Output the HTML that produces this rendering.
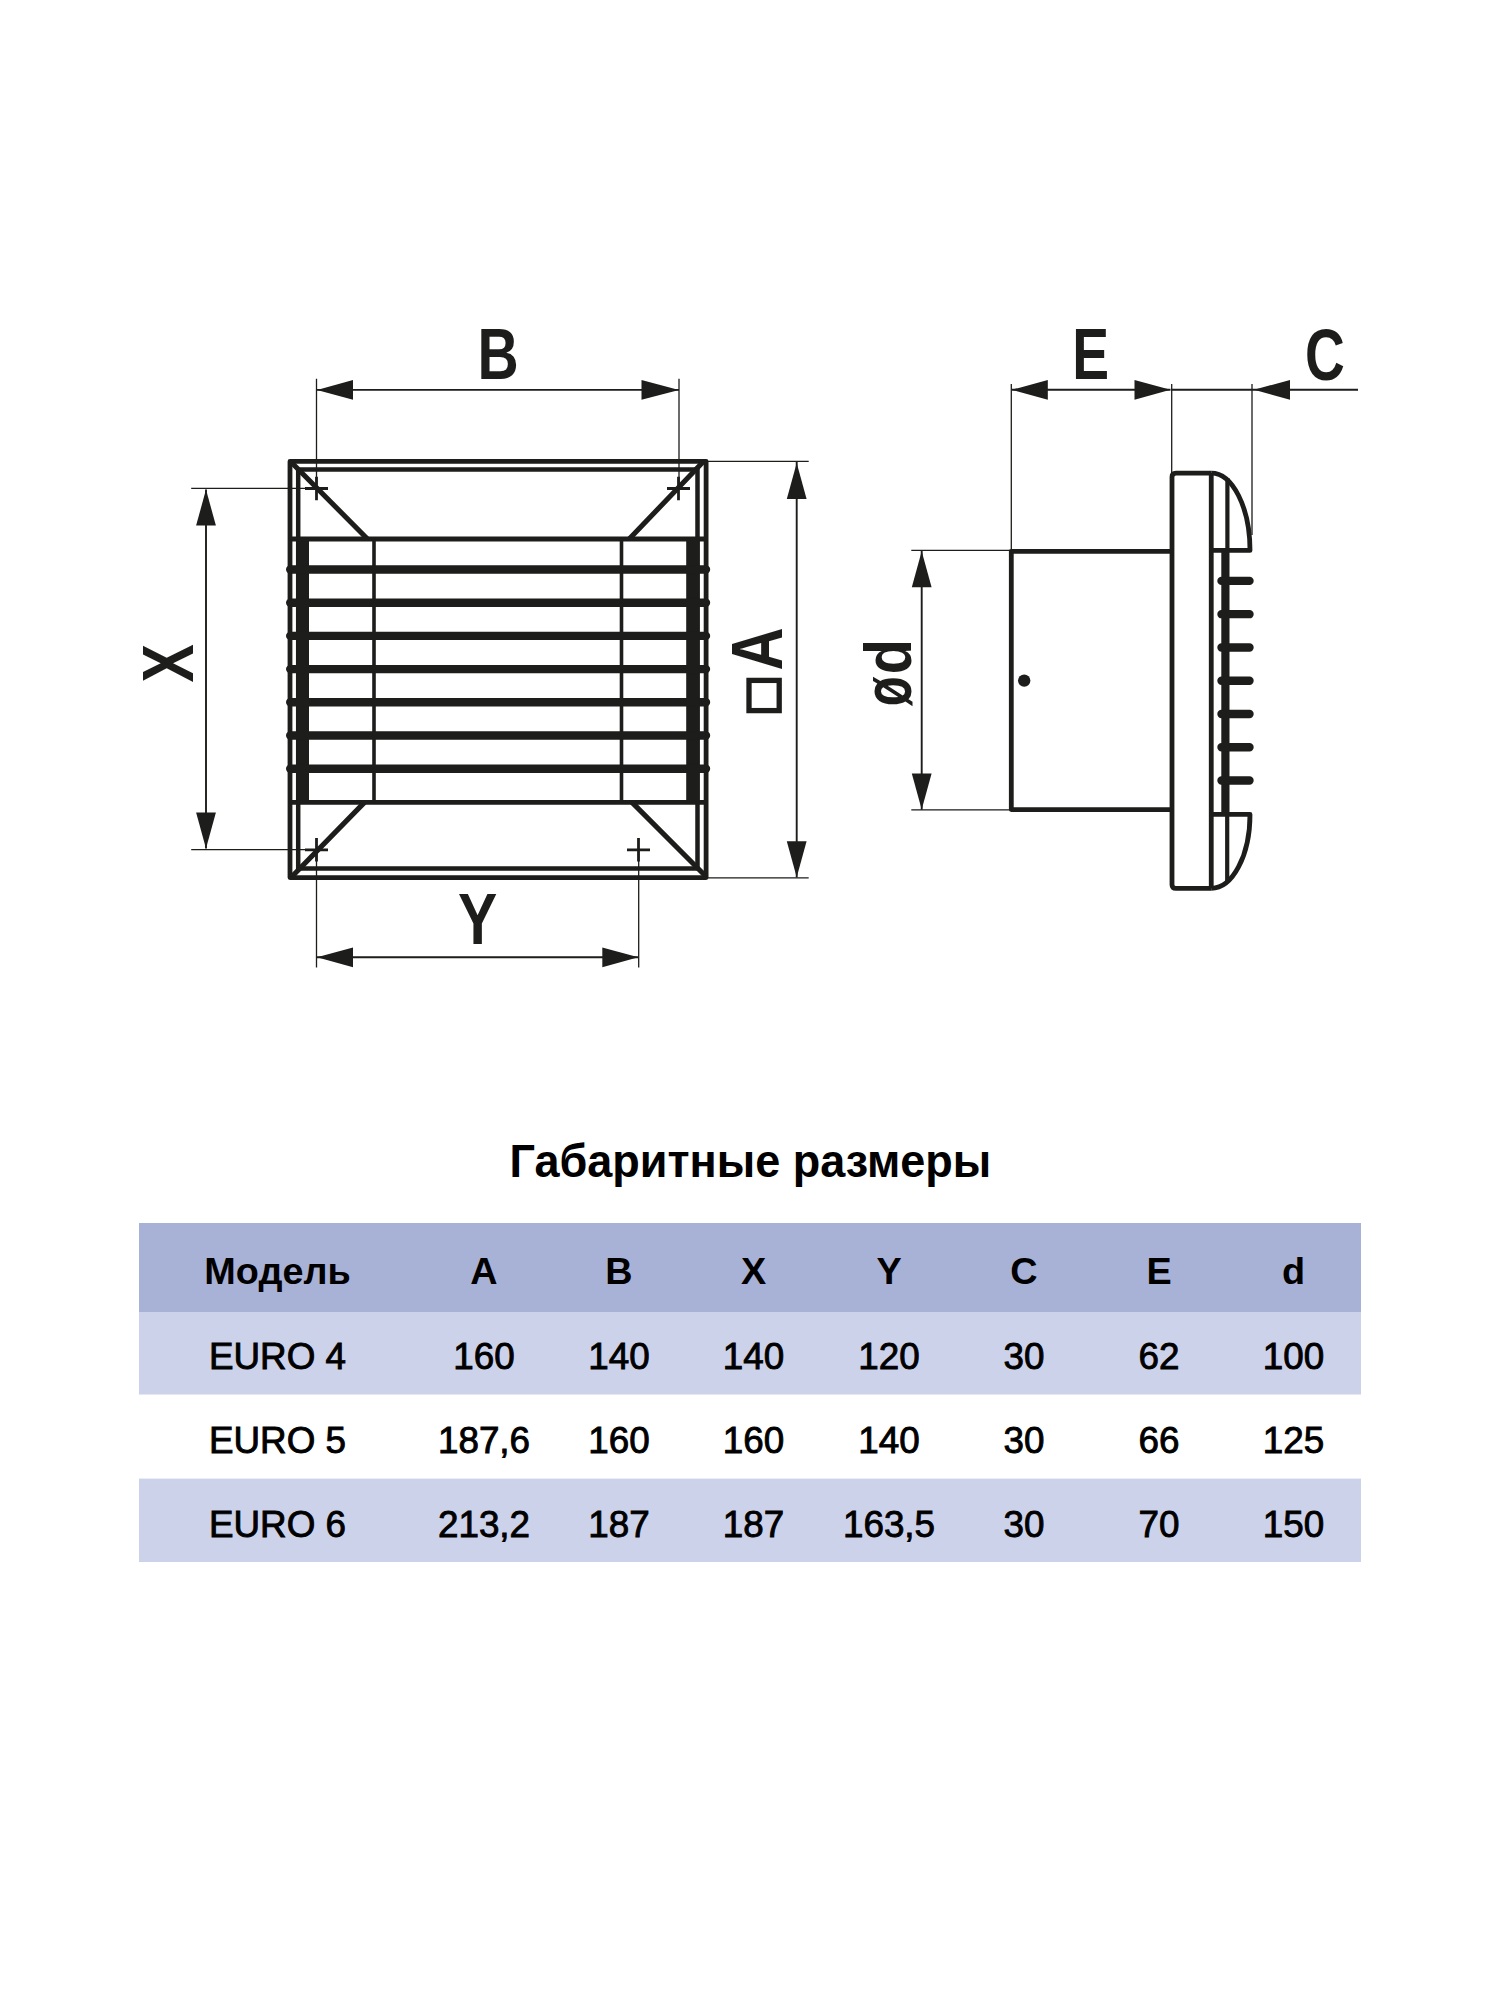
<!DOCTYPE html>
<html><head><meta charset="utf-8"><title>Габаритные размеры</title>
<style>
html,body{margin:0;padding:0;background:#fff;}
body{width:1500px;height:2000px;overflow:hidden;position:relative;}
svg{position:absolute;left:0;top:0;display:block;}
.k{fill:none;stroke:#1d1d1b;stroke-linejoin:round;}
.t{fill:none;stroke:#1d1d1b;stroke-linecap:butt;}
.ar{fill:#1d1d1b;stroke:none;}
.lb{font-family:"Liberation Sans",sans-serif;font-weight:bold;fill:#1d1d1b;}
.ti{font-family:"Liberation Sans",sans-serif;font-weight:bold;font-size:46px;fill:#000;}
.th{font-family:"Liberation Sans",sans-serif;font-weight:bold;font-size:37.8px;fill:#000;}
.td{font-family:"Liberation Sans",sans-serif;font-weight:normal;font-size:36.8px;fill:#000;stroke:#000;stroke-width:0.9px;}
</style></head>
<body>
<svg width="1500" height="2000" viewBox="0 0 1500 2000">
<path d="M290,461.4 H706.1 V877.6 H290 Z" class="k" stroke-width="4.8"/>
<path d="M298.2,469.4 H697.5 V868.4 H298.2 Z" class="k" stroke-width="4.5" style="stroke-linejoin:miter"/>
<path d="M291,462 L367.5,539 M703,462 L629.2,539 M292,876.5 L364.5,802.4 M706,876.5 L632,802.4" class="k" stroke-width="5.1" stroke-linecap="butt"/>
<path d="M292,539 H704 M292,802.4 H704" class="k" stroke-width="4.8" stroke-linecap="butt"/>
<path d="M374,539 V802.4 M621.5,539 V802.4" class="k" stroke-width="3.6" stroke-linecap="butt"/>
<rect x="296.2" y="539" width="12.8" height="263.4" fill="#1d1d1b"/>
<rect x="686.2" y="539" width="13.5" height="263.4" fill="#1d1d1b"/>
<path d="M290.2,569.50 H706 M290.2,602.70 H706 M290.2,635.90 H706 M290.2,669.10 H706 M290.2,702.30 H706 M290.2,735.50 H706 M290.2,768.70 H706 " class="k" stroke-width="8.4" stroke-linecap="round"/>
<path d="M305.0,488.5 H328.0 M316.5,476.7 V500.3 M667.0,488.5 H690.0 M678.5,476.7 V500.3 M305.0,849.8 H328.0 M316.5,838.0 V861.5999999999999 M627.0,849.8 H650.0 M638.5,838.0 V861.5999999999999 " class="k" stroke-width="2.8" stroke-linecap="butt"/>
<path d="M316.5,378.7 V488.5 M679,378.7 V488.5 M191.2,488.4 H316.5 M191.2,849.6 H316.5 M706,461.3 H808.7 M706,877.9 H808.7 M316.5,849.8 V967.5 M638.7,849.8 V967.5" class="t" stroke-width="1.3"/>
<path d="M317,389.9 H679 M206,489.6 V848.4 M796.7,462 V877.5 M317,957.3 H638.3" class="t" stroke-width="1.9"/>
<path d="M317.00,389.90 L353.00,399.80 L353.00,380.00 Z" class="ar"/>
<path d="M679.00,389.90 L641.50,380.00 L641.50,399.80 Z" class="ar"/>
<path d="M206.00,489.60 L196.10,525.60 L215.90,525.60 Z" class="ar"/>
<path d="M206.00,848.40 L215.90,812.40 L196.10,812.40 Z" class="ar"/>
<path d="M796.70,463.00 L786.80,499.00 L806.60,499.00 Z" class="ar"/>
<path d="M796.70,877.30 L806.60,841.30 L786.80,841.30 Z" class="ar"/>
<path d="M317.00,957.30 L353.00,967.20 L353.00,947.40 Z" class="ar"/>
<path d="M638.30,957.30 L602.30,947.40 L602.30,967.20 Z" class="ar"/>
<text transform="translate(477.38,379.30) scale(0.7947,1)" font-size="71.80" class="lb">B</text>
<text transform="translate(457.99,943.70) scale(0.8196,1)" font-size="71.80" class="lb">Y</text>
<text transform="translate(193.00,682.50) rotate(-90) scale(0.7951,1)" font-size="72.24" class="lb">X</text>
<text transform="translate(781.90,670.48) rotate(-90) scale(0.8270,1)" font-size="72.09" class="lb">A</text>
<rect x="749.0" y="680.4" width="30.2" height="30.2" class="k" stroke-width="5.3" style="stroke-linejoin:miter"/>
<path d="M1172,551.3 H1011.3 V809.6 H1172" class="k" stroke-width="4.8" stroke-linejoin="round"/>
<circle cx="1024.2" cy="680.6" r="6.2" fill="#1d1d1b"/>
<path d="M1211.25,473.1 H1176 Q1172,473.1 1172,477.1 V884.4 Q1172,888.4 1176,888.4 H1211.25" class="k" stroke-width="4.8"/>
<path d="M1211.25,473.1 V888.4" class="k" stroke-width="4.8" stroke-linecap="butt"/>
<path d="M1211.25,473.1 A38.75,77.3 0 0 1 1250,550.4 H1211.25" class="k" stroke-width="4.8"/>
<path d="M1211.25,888.4 A38.75,74 0 0 0 1250,814.4 H1211.25" class="k" stroke-width="4.8"/>
<path d="M1227.4,478 V550.4 M1227.2,814.4 V882" class="k" stroke-width="4.2" stroke-linecap="butt"/>
<rect x="1221.3" y="550.4" width="8.2" height="264" fill="#1d1d1b"/>
<path d="M1221.5,580.90 H1249.5 M1221.5,614.17 H1249.5 M1221.5,647.44 H1249.5 M1221.5,680.71 H1249.5 M1221.5,713.98 H1249.5 M1221.5,747.25 H1249.5 M1221.5,780.52 H1249.5 " class="k" stroke-width="8.4" stroke-linecap="round"/>
<path d="M1011.3,384 V551.3 M1171.7,384 V473 M1252,384 V535 M911.3,550.3 H1011.3 M911.3,809.8 H1011.3" class="t" stroke-width="1.3"/>
<path d="M1011.8,389.8 H1170.5 M1171.7,389.8 H1358 M921.7,550.3 V809.8" class="t" stroke-width="1.9"/>
<path d="M1011.80,389.80 L1047.80,399.70 L1047.80,379.90 Z" class="ar"/>
<path d="M1170.50,389.80 L1134.50,379.90 L1134.50,399.70 Z" class="ar"/>
<path d="M1254.00,389.80 L1290.00,399.70 L1290.00,379.90 Z" class="ar"/>
<path d="M921.70,551.30 L911.80,587.30 L931.60,587.30 Z" class="ar"/>
<path d="M921.70,809.50 L931.60,773.50 L911.80,773.50 Z" class="ar"/>
<text transform="translate(1072.30,379.30) scale(0.7711,1)" font-size="71.66" class="lb">E</text>
<text transform="translate(1305.04,379.59) scale(0.7555,1)" font-size="72.88" class="lb">C</text>
<text transform="translate(910.64,674.36) rotate(-90) scale(0.8521,1)" font-size="67.54" class="lb">d</text>
<text transform="translate(911.48,706.32) rotate(-90) scale(0.7210,1)" font-size="67.75" class="lb">ø</text>
<rect x="139" y="1223" width="1222" height="89" fill="#a8b2d6"/>
<rect x="139" y="1312" width="1222" height="82.5" fill="#ccd2ea"/>
<rect x="139" y="1478.6" width="1222" height="83.4" fill="#ccd2ea"/>
<text transform="translate(750.4,1177) scale(0.979,1)" x="0" y="0" class="ti" text-anchor="middle">Габаритные размеры</text>
<text x="277.5" y="1283.6" class="th" text-anchor="middle">Модель</text>
<text x="484" y="1283.6" class="th" text-anchor="middle">A</text>
<text x="619" y="1283.6" class="th" text-anchor="middle">B</text>
<text x="753.5" y="1283.6" class="th" text-anchor="middle">X</text>
<text x="889" y="1283.6" class="th" text-anchor="middle">Y</text>
<text x="1024" y="1283.6" class="th" text-anchor="middle">C</text>
<text x="1159" y="1283.6" class="th" text-anchor="middle">E</text>
<text x="1293.5" y="1283.6" class="th" text-anchor="middle">d</text>
<text x="277.5" y="1369.3" class="td" text-anchor="middle">EURO 4</text>
<text x="484" y="1369.3" class="td" text-anchor="middle">160</text>
<text x="619" y="1369.3" class="td" text-anchor="middle">140</text>
<text x="753.5" y="1369.3" class="td" text-anchor="middle">140</text>
<text x="889" y="1369.3" class="td" text-anchor="middle">120</text>
<text x="1024" y="1369.3" class="td" text-anchor="middle">30</text>
<text x="1159" y="1369.3" class="td" text-anchor="middle">62</text>
<text x="1293.5" y="1369.3" class="td" text-anchor="middle">100</text>
<text x="277.5" y="1453.2" class="td" text-anchor="middle">EURO 5</text>
<text x="484" y="1453.2" class="td" text-anchor="middle">187,6</text>
<text x="619" y="1453.2" class="td" text-anchor="middle">160</text>
<text x="753.5" y="1453.2" class="td" text-anchor="middle">160</text>
<text x="889" y="1453.2" class="td" text-anchor="middle">140</text>
<text x="1024" y="1453.2" class="td" text-anchor="middle">30</text>
<text x="1159" y="1453.2" class="td" text-anchor="middle">66</text>
<text x="1293.5" y="1453.2" class="td" text-anchor="middle">125</text>
<text x="277.5" y="1536.6" class="td" text-anchor="middle">EURO 6</text>
<text x="484" y="1536.6" class="td" text-anchor="middle">213,2</text>
<text x="619" y="1536.6" class="td" text-anchor="middle">187</text>
<text x="753.5" y="1536.6" class="td" text-anchor="middle">187</text>
<text x="889" y="1536.6" class="td" text-anchor="middle">163,5</text>
<text x="1024" y="1536.6" class="td" text-anchor="middle">30</text>
<text x="1159" y="1536.6" class="td" text-anchor="middle">70</text>
<text x="1293.5" y="1536.6" class="td" text-anchor="middle">150</text>
</svg>
</body></html>
